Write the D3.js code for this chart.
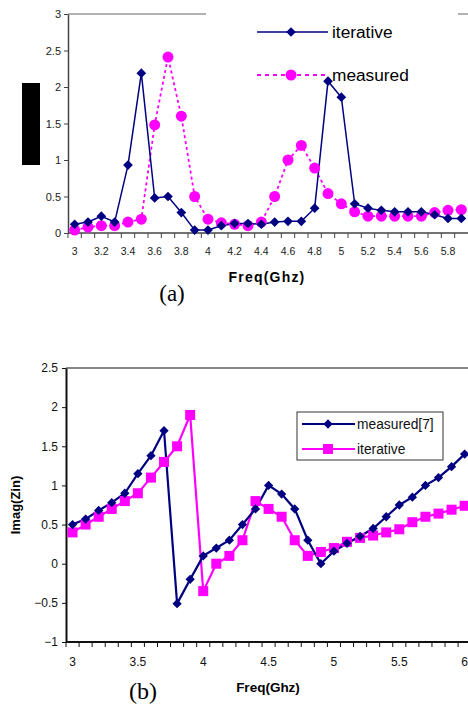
<!DOCTYPE html>
<html>
<head>
<meta charset="utf-8">
<script src="https://cdn.jsdelivr.net/npm/d3@7"></script>
<style>
  body { margin: 0; background: #fff; }
  svg { display: block; font-family: "Liberation Sans", Arial, sans-serif; }
</style>
</head>
<body>
<div id="chart"></div>
<script>
// (a) frequencies 3.0 .. 5.9
const freqA = ["3","3.1","3.2","3.3","3.4","3.5","3.6","3.7","3.8","3.9","4","4.1","4.2","4.3","4.4",
  "4.5","4.6","4.7","4.8","4.9","5","5.1","5.2","5.3","5.4","5.5","5.6","5.7","5.8","5.9"];
const iterativeA = [0.12,0.15,0.23,0.15,0.93,2.19,0.48,0.5,0.28,0.04,0.04,0.1,0.13,0.13,0.12,
  0.15,0.16,0.16,0.34,2.08,1.86,0.4,0.34,0.31,0.29,0.29,0.29,0.25,0.2,0.2];
const measuredA = [0.04,0.08,0.1,0.1,0.15,0.19,1.48,2.41,1.6,0.5,0.19,0.14,0.12,0.1,0.15,
  0.5,1.0,1.2,0.89,0.54,0.4,0.29,0.23,0.23,0.23,0.23,0.23,0.28,0.31,0.32];
const yTicksA = [0, 0.5, 1, 1.5, 2, 2.5, 3];

// (b) frequencies 3.0 .. 6.0
const freqB = ["3","3.1","3.2","3.3","3.4","3.5","3.6","3.7","3.8","3.9","4","4.1","4.2","4.3","4.4",
  "4.5","4.6","4.7","4.8","4.9","5","5.1","5.2","5.3","5.4","5.5","5.6","5.7","5.8","5.9","6"];
const measuredB = [0.5,0.57,0.68,0.78,0.9,1.15,1.38,1.7,-0.51,-0.2,0.1,0.2,0.3,0.5,0.7,
  1.0,0.89,0.7,0.3,0.0,0.16,0.26,0.35,0.45,0.6,0.75,0.85,1.0,1.1,1.24,1.4];
const iterativeB = [0.4,0.5,0.6,0.7,0.8,0.9,1.1,1.3,1.5,1.9,-0.35,0.0,0.1,0.3,0.8,
  0.7,0.6,0.3,0.1,0.15,0.2,0.28,0.33,0.36,0.4,0.44,0.53,0.6,0.64,0.69,0.74];
const yTicksB = [-1, -0.5, 0, 0.5, 1, 1.5, 2, 2.5];

const NAVY = "#000080", MAG = "#ff00ff";
const W = 468, H = 706;

const svg = d3.select("#chart").append("svg").attr("width", W).attr("height", H);

// ---------- chart (a) ----------
const xa = d3.scaleBand().domain(freqA).range([68, 468]);
const ya = d3.scaleLinear().domain([0, 3]).range([233, 14]);
const ga = svg.append("g");

ga.append("line").attr("x1", 68).attr("x2", 468).attr("y1", ya(3)).attr("y2", ya(3))
  .attr("stroke", "#999").attr("stroke-width", 1.5);
// legend background hides the top border
ga.append("rect").attr("x", 206).attr("y", 8).attr("width", 252).attr("height", 12).attr("fill", "#fff");

// y axis
ga.append("g").attr("transform", "translate(68,0)")
  .call(d3.axisLeft(ya).tickValues(yTicksA).tickSize(4).tickSizeOuter(0).tickFormat(d3.format("")))
  .call(g => g.select(".domain").attr("stroke", "#444").attr("stroke-width", 1.5))
  .call(g => g.selectAll("line").attr("stroke", "#444"))
  .call(g => g.selectAll("text").attr("font-size", 11).attr("fill", "#222").attr("x", -7));

// x axis: ticks at category boundaries, labels every other category
ga.append("line").attr("x1", 68).attr("x2", 468).attr("y1", 233).attr("y2", 233)
  .attr("stroke", "#444").attr("stroke-width", 1.5);
ga.selectAll(".xtA").data(freqA).enter().append("line")
  .attr("x1", d => xa(d)).attr("x2", d => xa(d)).attr("y1", 233).attr("y2", 238)
  .attr("stroke", "#444");
ga.selectAll(".xlA").data(freqA.filter((d, i) => i % 2 === 0)).enter().append("text")
  .attr("x", d => xa(d) + xa.bandwidth() / 2).attr("y", 255)
  .attr("text-anchor", "middle").attr("font-size", 10.5).attr("fill", "#222").text(d => d);

const cxA = d => xa(d) + xa.bandwidth() / 2;

ga.append("path").datum(measuredA)
  .attr("fill", "none").attr("stroke", MAG).attr("stroke-width", 1.8).attr("stroke-dasharray", "3,3")
  .attr("d", d3.line().x((d, i) => cxA(freqA[i])).y(d => ya(d)));
ga.append("path").datum(iterativeA)
  .attr("fill", "none").attr("stroke", NAVY).attr("stroke-width", 1.5)
  .attr("d", d3.line().x((d, i) => cxA(freqA[i])).y(d => ya(d)));

ga.selectAll(".dotA").data(measuredA).enter().append("circle")
  .attr("cx", (d, i) => cxA(freqA[i])).attr("cy", d => ya(d)).attr("r", 5.5).attr("fill", MAG);
const diamond = d3.symbol().type(d3.symbolDiamond2);
ga.selectAll(".diaA").data(iterativeA).enter().append("path")
  .attr("transform", (d, i) => `translate(${cxA(freqA[i])},${ya(d)})`)
  .attr("d", diamond.size(60)()).attr("fill", NAVY);

// legend (a)
const legA = ga.append("g");
legA.append("line").attr("x1", 257).attr("x2", 328).attr("y1", 32).attr("y2", 32)
  .attr("stroke", NAVY).attr("stroke-width", 1.5);
legA.append("path").attr("transform", "translate(291,32)").attr("d", diamond.size(60)()).attr("fill", NAVY);
legA.append("text").attr("x", 332).attr("y", 38).attr("font-size", 17.3).text("iterative");
legA.append("line").attr("x1", 257).attr("x2", 328).attr("y1", 75).attr("y2", 75)
  .attr("stroke", MAG).attr("stroke-width", 2).attr("stroke-dasharray", "4,4");
legA.append("circle").attr("cx", 291).attr("cy", 75).attr("r", 5.5).attr("fill", MAG);
legA.append("text").attr("x", 332).attr("y", 81).attr("font-size", 17.3).text("measured");

// redacted axis title
ga.append("rect").attr("x", 22).attr("y", 83).attr("width", 18).attr("height", 82).attr("fill", "#000");

ga.append("text").attr("x", 267).attr("y", 282).attr("text-anchor", "middle")
  .attr("font-size", 14).attr("font-weight", "bold").attr("letter-spacing", 1.2).text("Freq(Ghz)");
ga.append("text").attr("x", 172).attr("y", 301).attr("text-anchor", "middle")
  .attr("font-family", "'Liberation Serif', 'Times New Roman', serif").attr("font-size", 23).text("(a)");

// ---------- chart (b) ----------
const xb = d3.scaleBand().domain(freqB).range([66, 66 + 31 * 13.07]);
const yb = d3.scaleLinear().domain([-1, 2.5]).range([642, 368]);
const gb = svg.append("g");
const cxB = d => xb(d) + xb.bandwidth() / 2;

gb.append("line").attr("x1", 66).attr("x2", 468).attr("y1", yb(2.5)).attr("y2", yb(2.5))
  .attr("stroke", "#888").attr("stroke-width", 2);

gb.append("g").attr("transform", "translate(66,0)")
  .call(d3.axisLeft(yb).tickValues(yTicksB).tickSize(4).tickSizeOuter(0).tickFormat(d3.format("")))
  .call(g => g.select(".domain").attr("stroke", "#111").attr("stroke-width", 2))
  .call(g => g.selectAll("line").attr("stroke", "#111"))
  .call(g => g.selectAll("text").attr("font-size", 12).attr("fill", "#111").attr("x", -8));

gb.append("line").attr("x1", 66).attr("x2", 468).attr("y1", 642).attr("y2", 642)
  .attr("stroke", "#111").attr("stroke-width", 2);
gb.selectAll(".xtB").data(freqB).enter().append("line")
  .attr("x1", d => xb(d)).attr("x2", d => xb(d)).attr("y1", 642).attr("y2", 647)
  .attr("stroke", "#111");
gb.selectAll(".xlB").data(freqB.filter((d, i) => i % 5 === 0)).enter().append("text")
  .attr("x", d => cxB(d)).attr("y", 666)
  .attr("text-anchor", "middle").attr("font-size", 12).attr("fill", "#111").text(d => d);

gb.append("path").datum(iterativeB)
  .attr("fill", "none").attr("stroke", MAG).attr("stroke-width", 2.2)
  .attr("d", d3.line().x((d, i) => cxB(freqB[i])).y(d => yb(d)));
gb.append("path").datum(measuredB)
  .attr("fill", "none").attr("stroke", NAVY).attr("stroke-width", 2.2)
  .attr("d", d3.line().x((d, i) => cxB(freqB[i])).y(d => yb(d)));

gb.selectAll(".sqB").data(iterativeB).enter().append("rect")
  .attr("x", (d, i) => cxB(freqB[i]) - 5).attr("y", d => yb(d) - 5)
  .attr("width", 10).attr("height", 10).attr("fill", MAG);
gb.selectAll(".diaB").data(measuredB).enter().append("path")
  .attr("transform", (d, i) => `translate(${cxB(freqB[i])},${yb(d)})`)
  .attr("d", diamond.size(55)()).attr("fill", NAVY);

// legend (b)
const legB = gb.append("g");
legB.append("rect").attr("x", 297).attr("y", 412).attr("width", 146).attr("height", 48)
  .attr("fill", "#fff").attr("stroke", "#333").attr("stroke-width", 1);
legB.append("line").attr("x1", 302).attr("x2", 355).attr("y1", 424).attr("y2", 424)
  .attr("stroke", NAVY).attr("stroke-width", 2.2);
legB.append("path").attr("transform", "translate(328,424)").attr("d", diamond.size(55)()).attr("fill", NAVY);
legB.append("text").attr("x", 357).attr("y", 429).attr("font-size", 13.8).attr("fill", "#111").text("measured[7]");
legB.append("line").attr("x1", 302).attr("x2", 355).attr("y1", 449).attr("y2", 449)
  .attr("stroke", MAG).attr("stroke-width", 2.2);
legB.append("rect").attr("x", 323).attr("y", 444).attr("width", 10).attr("height", 10).attr("fill", MAG);
legB.append("text").attr("x", 357).attr("y", 454).attr("font-size", 13.8).attr("fill", "#111").text("iterative");

gb.append("text").attr("transform", "translate(20,505) rotate(-90)").attr("text-anchor", "middle")
  .attr("font-size", 13).attr("font-weight", "bold").text("Imag(Zin)");
gb.append("text").attr("x", 268).attr("y", 692).attr("text-anchor", "middle")
  .attr("font-size", 13.5).attr("font-weight", "bold").text("Freq(Ghz)");
gb.append("text").attr("x", 143).attr("y", 699).attr("text-anchor", "middle")
  .attr("font-family", "'Liberation Serif', 'Times New Roman', serif").attr("font-size", 24).text("(b)");
</script>
</body>
</html>
